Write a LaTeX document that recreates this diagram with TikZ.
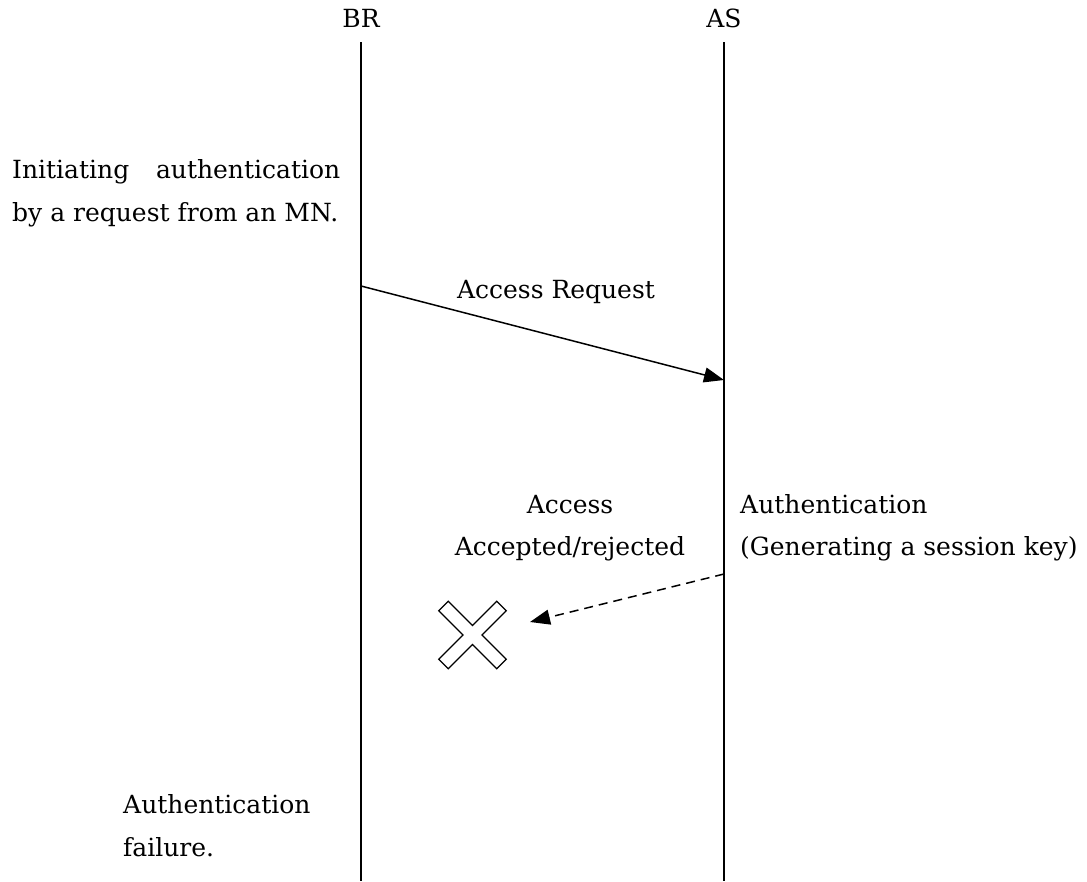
\documentclass[tikz,border=0pt]{standalone}
\usepackage{fontspec}
\setmainfont{DejaVu Serif}
\usetikzlibrary{arrows.meta}
\begin{document}
\begin{tikzpicture}[x=1pt,y=-1pt,
  lbl/.style={font=\fontsize{25}{42}\selectfont, inner sep=0pt},
  lw/.style={lbl, anchor=base west},
  lc/.style={lbl, anchor=base},
  life/.style={line width=1.6pt},
  msg/.style={line width=1.5pt, -{Triangle[length=20pt,width=15pt]}},
  reply/.style={msg, dash pattern=on 9pt off 6pt}]
\useasboundingbox (0,0) rectangle (1087,881);
% headers
\node[lc] (br) at (361,27) {BR};
\node[lc] (as) at (724,27) {AS};
\coordinate (brtop) at (361,42);
\coordinate (astop) at (724,42);
\coordinate (brbot) at (361,881);
\coordinate (asbot) at (724,881);
\draw[life] (brtop) -- (brbot);
\draw[life] (astop) -- (asbot);
% notes
\node[lw] (init1) at (12,178) {\makebox[328pt][s]{Initiating authentication}};
\node[lw] (init2) at (12,221) {by a request from an MN.};
\node[lw] (fail1) at (123,813) {Authentication};
\node[lw] (fail2) at (123,856) {failure.};
\node[lw] (auth1) at (740,513) {Authentication};
\node[lw] (auth2) at (740,555) {(Generating a session key)};
\node[lc] (acc1) at (570,513) {Access};
\node[lc] (acc2) at (570,555) {Accepted/rejected};
% access request
\coordinate (reqs) at (361,286);
\coordinate (reqe) at (724,380);
\draw[msg] (reqs) -- (reqe);
\node[lc] (reqlbl) at (556,298) {Access Request};
% reply
\coordinate (reps) at (724,574);
\coordinate (repe) at (530,622);
\draw[reply] (reps) -- (repe);
% cross
\node (cross) at (472.5,635) {};
\draw[line width=1.3pt, fill=white, rotate around={45:(472.5,635)}]
  (472.5-6.7,635-41) -- (472.5+6.7,635-41) -- (472.5+6.7,635-6.7) -- (472.5+41,635-6.7)
  -- (472.5+41,635+6.7) -- (472.5+6.7,635+6.7) -- (472.5+6.7,635+41) -- (472.5-6.7,635+41)
  -- (472.5-6.7,635+6.7) -- (472.5-41,635+6.7) -- (472.5-41,635-6.7) -- (472.5-6.7,635-6.7) -- cycle;
\end{tikzpicture}
\end{document}
